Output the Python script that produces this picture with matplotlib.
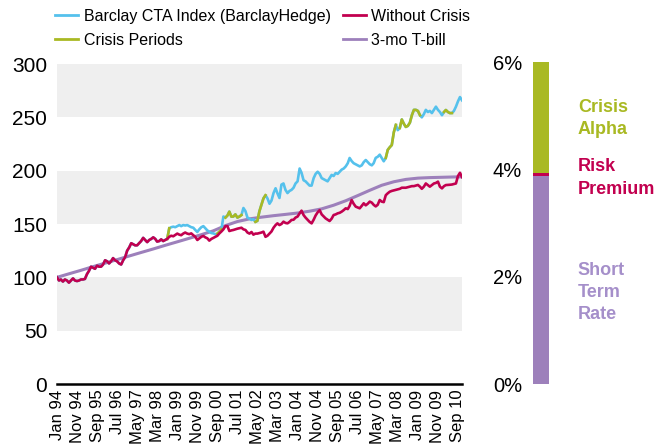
import matplotlib
matplotlib.use('Agg')
import matplotlib.pyplot as plt
from matplotlib.lines import Line2D
import pandas as pd

plt.rcParams['font.family'] = ['Liberation Sans', 'DejaVu Sans']

# ---------------- data ----------------
first_month = '1994-01-01'

without_crisis = [
    100, 97, 98, 96, 98, 97, 95, 97, 99, 97, 96.5, 97,                       # 1994
    98, 98, 98.5, 103, 106, 110, 109, 108, 111, 110, 110, 112,               # 1995
    116, 115, 113, 115, 118, 116, 115, 113, 112, 116, 119, 125,              # 1996
    128, 132, 131, 130, 130, 132, 134, 137, 135, 133, 135, 136,              # 1997
    137.5, 136, 133.5, 134, 135.6, 134, 135, 136, 138, 139, 138.5, 139.7,    # 1998
    141, 140, 139.5, 141, 142, 141, 140.5, 141.2, 139.5, 138, 135, 136.5,    # 1999
    138, 138.8, 137.5, 136.6, 134.4, 136, 137, 138, 139, 141.2, 143, 145,    # 2000
    148, 148, 143.4, 144, 144.4, 145, 145.6, 146, 146.5, 145, 144.4, 142,    # 2001
    141, 142.5, 140, 141, 141, 141.5, 142, 142.8, 138, 139, 141, 143,        # 2002
    146.5, 149, 150.6, 149, 150, 152.2, 151, 150.6, 152, 153.8, 154, 156,    # 2003
    157, 160, 162.5, 158.4, 156, 154, 152, 150.6, 154, 158, 161, 163,        # 2004
    159, 157, 155.3, 154, 152.8, 155, 158.4, 159, 160, 160.5, 161.6, 163,    # 2005
    164.7, 164, 167, 172.5, 169, 166.3, 165.5, 164.7, 167, 169.4, 167.5, 169,  # 2006
    171, 170, 168, 166.5, 168, 172.5, 171, 170.5, 177, 178.8, 180.3, 181,    # 2007
    181.5, 182, 182.5, 183, 184, 184, 184, 184.5, 185, 185.5, 185.5, 186,    # 2008
    186.6, 185, 183, 185, 188, 186.5, 185, 186.5, 188, 188.5, 189.7, 185,    # 2009
    183.4, 185.5, 186.5, 186.6, 186.8, 187, 187.5, 188, 195, 198, 194,       # 2010 (to Nov)
]

# Barclay CTA index: identical to "without crisis" until Jul 98, then:
cta_start = '1998-08-01'
cta_from_aug98 = [
    136, 146, 147, 147.5, 147,                                               # 1998 Aug-Dec
    148, 149, 148, 149, 148.6, 149, 148, 147, 146.5, 144.4, 142.5, 145,      # 1999
    147, 148, 146, 144, 142.8, 141.5, 141.2, 140.5, 141, 142.8, 145, 157,    # 2000
    156, 158, 161.6, 156.9, 157, 159, 156, 157, 158.4, 165, 162, 156,        # 2001
    155, 153.8, 154.5, 152, 153, 162, 168, 174, 177, 174, 169, 172,          # 2002
    179, 183.5, 178.8, 174.4, 186.9, 188, 182, 179, 181, 182, 184, 188,      # 2003
    190, 202, 198, 191, 190, 188, 186, 186, 193, 197, 199, 197,              # 2004
    193, 192, 191, 190, 193, 196, 195, 197.8, 197, 199, 201, 202,            # 2005
    204, 207, 211.9, 209, 207, 206, 205, 204, 205, 208, 210, 208,            # 2006
    206, 205, 207, 212, 213, 215, 212, 208.8, 212, 219.5, 222, 224,          # 2007
    236, 243, 238, 240, 248, 244, 241, 242, 245, 252, 257, 257,              # 2008
    256, 252, 250, 253, 257, 255, 256, 254, 257, 260, 257, 255,              # 2009
    252, 255, 256.9, 255, 254, 254, 256, 260, 265, 269, 266,                 # 2010 (to Nov)
]

crisis_periods = [
    ('1998-08-01', '1998-09-01'),
    ('2000-09-01', '2000-11-01'),
    ('2001-01-01', '2001-09-01'),
    ('2002-04-01', '2002-09-01'),
    ('2007-09-01', '2008-02-01'),
    ('2008-04-01', '2009-02-01'),
    ('2010-02-01', '2010-06-01'),
]

# 3-month T-bill index, semi-annual readings (Jan / Jul) plus last month
tbill_dates = list(pd.date_range('1994-01-01', periods=34, freq='6MS')) + [pd.Timestamp('2010-11-01')]
tbill = [100, 103.3, 106.6, 110, 113.3, 116.6, 120, 123.3, 126.6, 130, 133.3, 136.6,
         140, 143.6, 148.5, 152.3, 154.8, 156.4, 157.8, 159, 160.3, 162, 164.2, 167.6,
         171.8, 176.6, 181.6, 186.3, 189.6, 191.8, 193, 193.5, 193.8, 194.1, 194.2]

x_tick_labels = ['Jan 94', 'Nov 94', 'Sep 95', 'Jul 96', 'May 97', 'Mar 98', 'Jan 99',
                 'Nov 99', 'Sep 00', 'Jul 01', 'May 02', 'Mar 03', 'Jan 04', 'Nov 04',
                 'Sep 05', 'Jul 06', 'May 07', 'Mar 08', 'Jan 09', 'Nov 09', 'Sep 10']

# return decomposition (% p.a.)
decomp_labels = ['Short\nTerm\nRate', 'Risk\nPremium', 'Crisis\nAlpha']
decomp_values = [3.88, 0.06, 2.06]

# ---------------- styles ----------------
C_BLUE = '#55c1ec'
C_GREEN = '#a9b923'
C_RED = '#c2004f'
C_PURPLE = '#9d80bb'
C_PURPLE_TXT = '#a58fca'
C_GREY = '#efefef'

W, H = 667, 447
fig = plt.figure(figsize=(W / 100, H / 100), dpi=100)

ax = fig.add_axes([57 / W, (H - 384) / H, 405 / W, 320 / H])

months = pd.date_range(first_month, periods=len(without_crisis), freq='MS')
wc = pd.Series(without_crisis, index=months)
cta = pd.concat([wc[wc.index < pd.Timestamp(cta_start)],
                 pd.Series(cta_from_aug98,
                           index=pd.date_range(cta_start, periods=len(cta_from_aug98), freq='MS'))])

for lo, hi in [(50, 100), (150, 200), (250, 300)]:
    ax.axhspan(lo, hi, color=C_GREY, zorder=0, lw=0)

ax.plot(tbill_dates, tbill, color=C_PURPLE, lw=2.2, zorder=2, solid_capstyle='round')
ax.plot(cta.index, cta.values, color=C_BLUE, lw=1.9, zorder=3, solid_joinstyle='round')
for s, e in crisis_periods:
    seg = cta[(cta.index >= pd.Timestamp(s)) & (cta.index <= pd.Timestamp(e))]
    ax.plot(seg.index, seg.values, color=C_GREEN, lw=1.9, zorder=4, solid_joinstyle='round')
ax.plot(wc.index, wc.values, color=C_RED, lw=1.9, zorder=5, solid_joinstyle='round')

ax.set_xlim(months[0], months[-1])
ax.set_ylim(0, 300)
ax.set_yticks(range(0, 301, 50))
ax.tick_params(axis='y', length=0, pad=7, labelsize=15)
xt = pd.to_datetime(x_tick_labels, format='%b %y')
ax.set_xticks(xt)
ax.set_xticklabels(x_tick_labels, rotation=90, fontsize=12)
ax.tick_params(axis='x', length=0, pad=4)
for sp in ['left', 'right', 'top']:
    ax.spines[sp].set_visible(False)
ax.spines['bottom'].set_linewidth(1.8)
ax.spines['bottom'].set_color('black')
ax.spines['bottom'].set_zorder(6)

handles = [Line2D([], [], color=C_BLUE, lw=2),
           Line2D([], [], color=C_GREEN, lw=2),
           Line2D([], [], color=C_RED, lw=2),
           Line2D([], [], color=C_PURPLE, lw=2)]
labels = ['Barclay CTA Index (BarclayHedge)', 'Crisis Periods', 'Without Crisis', '3-mo T-bill']
fig.legend(handles, labels, loc='upper left', bbox_to_anchor=(55 / W, 1 - 9 / H),
           ncol=2, frameon=False, fontsize=11.5, handlelength=1.45, handletextpad=0.35,
           columnspacing=0.75, labelspacing=0.55, borderaxespad=0, borderpad=0)

# ---------------- decomposition bar ----------------
ax2 = fig.add_axes([533 / W, (H - 384) / H, 16 / W, 322 / H])
bottom = 0
bar_colors = [C_PURPLE, C_RED, C_GREEN]
for v, c in zip(decomp_values, bar_colors):
    ax2.bar(0, v, bottom=bottom, width=1, color=c, lw=0)
    bottom += v
ax2.set_xlim(-0.5, 0.5)
ax2.set_ylim(0, 6)
ax2.set_yticks([0, 2, 4, 6])
ax2.set_yticklabels([f'{t}%' for t in [0, 2, 4, 6]])
ax2.tick_params(axis='y', length=0, pad=8, labelsize=14.5)
ax2.set_xticks([])
for sp in ax2.spines.values():
    sp.set_visible(False)

txt_colors = [C_PURPLE_TXT, C_RED, C_GREEN]
txt_y = [1.71, 3.84, 4.95]
for lab, c, y in zip(decomp_labels, txt_colors, txt_y):
    ax2.text(2.8, y, lab, color=c, fontsize=13, fontweight='bold', ha='left', va='center',
             transform=ax2.get_yaxis_transform(), linespacing=1.4, clip_on=False)

fig.savefig('out.png', dpi=100)
